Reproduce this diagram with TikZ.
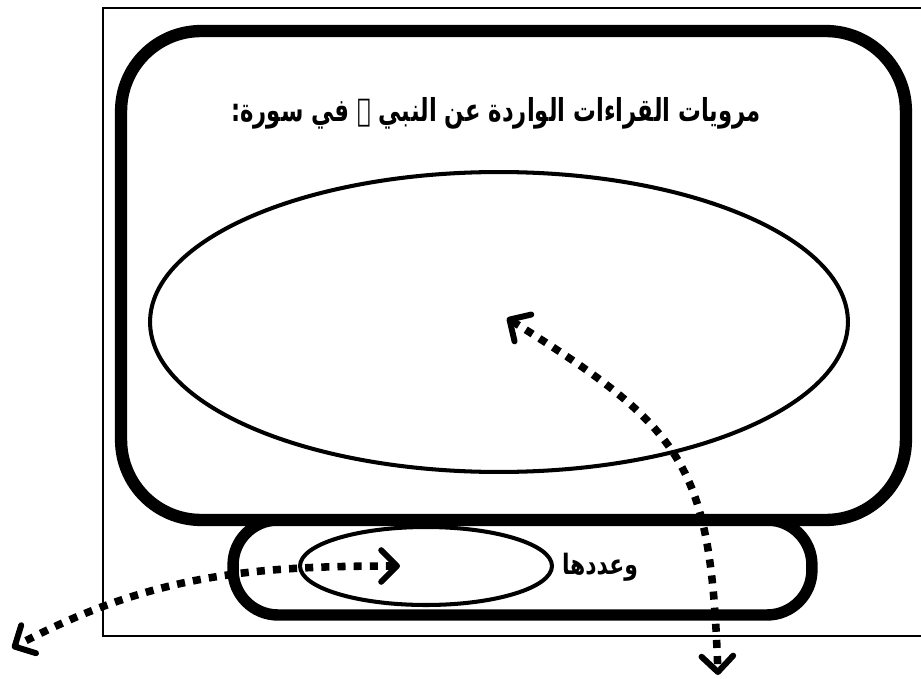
\documentclass[tikz,border=0pt]{standalone}
\usepackage{fontspec}
\newfontfamily\arabicfont[Script=Arabic]{DejaVu Sans}
\TeXXeTstate=1
\usetikzlibrary{arrows.meta,shapes.geometric}
\tikzset{
  barb/.tip={Straight Barb[length=9pt,width=18pt,line width=3.4pt,round]},
  box/.style={draw, line width=7pt, rounded corners=1.6cm, inner sep=0pt},
  band/.style={draw, line width=6.5pt, rounded corners=0.9cm, inner sep=0pt},
  oval/.style={draw, ellipse, line width=2.3pt, inner sep=0pt},
  dotline/.style={line width=4.3pt, dash pattern=on 4.6pt off 4.6pt, barb-barb},
  artext/.style={font=\arabicfont\bfseries\fontsize{18}{21}\selectfont, inner sep=0pt}
}
\begin{document}
\begin{tikzpicture}[x=0.02cm, y=-0.02cm]
\useasboundingbox (0,0) rectangle (921,679);
\draw[line width=1.1pt] (921,8) -- (103,8) -- (103,636) -- (921,636);
\node[box, minimum width=15.7cm, minimum height=9.78cm] (outer) at (513.5,275.5) {};
\node[band, minimum width=11.58cm, minimum height=1.9cm] (base) at (522.5,567.5) {};
\node[oval, minimum width=13.96cm, minimum height=6cm] (big) at (499,322) {};
\node[oval, minimum width=5.04cm, minimum height=1.56cm] (small) at (426,566) {};
\node[artext] (title) at (496,113) {\scalebox{0.72}[1]{\beginR مرويات القراءات الواردة عن النبي ﷺ في سورة:\endR}};
\node[artext, font=\arabicfont\bfseries\fontsize{16}{19}\selectfont] (count) at (600,567) {\scalebox{0.78}[1]{\beginR وعددها\endR}};
\coordinate (inbig) at (507,318);
\coordinate (below) at (718,675);
\coordinate (insmall) at (400,566);
\coordinate (left) at (12,648);
\draw[dotline] (inbig) to[out=-32, in=92, looseness=1.3] (below);
\draw[dotline] (insmall) .. controls (250,566) and (150,575) .. (left);
\end{tikzpicture}
\end{document}
